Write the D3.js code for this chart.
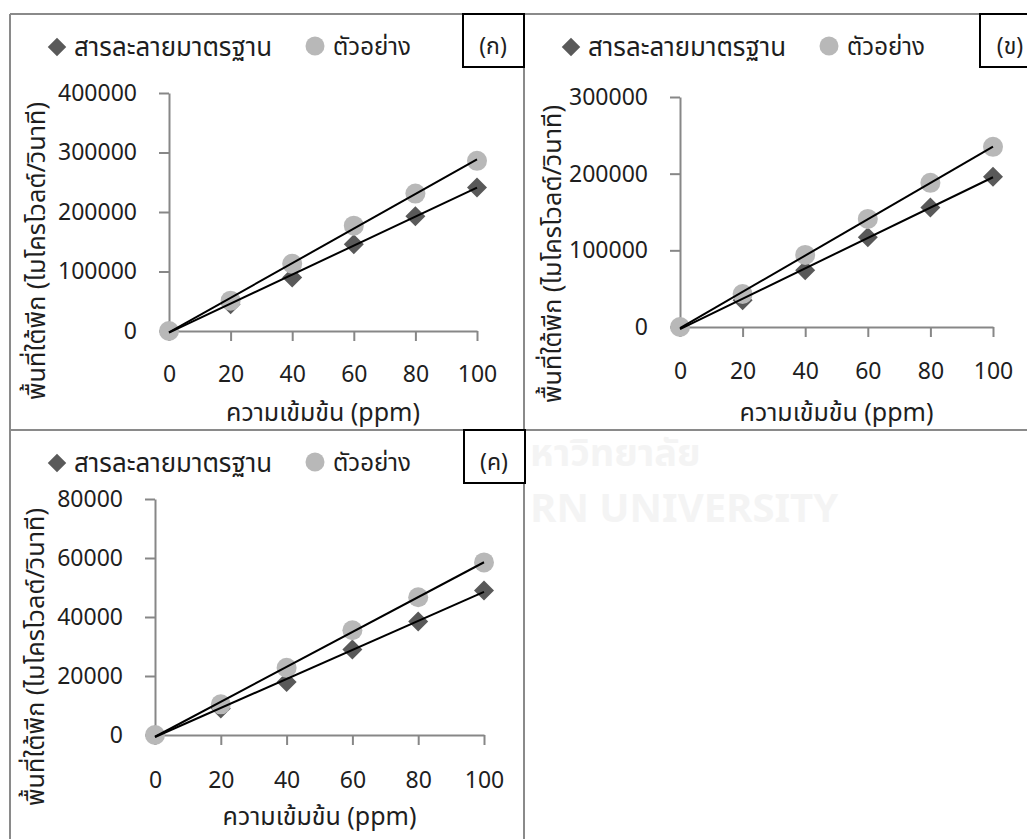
<!DOCTYPE html>
<html>
<head>
<meta charset="utf-8">
<script src="https://cdn.jsdelivr.net/npm/d3@7"></script>
<style>
  body { margin: 0; background: #fff; }
  svg text { font-family: "Leelawadee UI", Tahoma, "Noto Sans Thai", "Noto Sans", sans-serif; fill: #1e1e1e; }
</style>
</head>
<body>
<div id="chart"></div>
<script>
const concentrations = [0, 20, 40, 60, 80, 100];
const xTicks = [0, 20, 40, 60, 80, 100];

const standardA = [0, 45000, 90000, 146000, 193000, 241000];
const sampleA = [0, 51000, 113000, 177000, 231000, 286000];
const yTicksA = [0, 100000, 200000, 300000, 400000];

const standardB = [0, 35000, 74000, 117000, 156000, 196000];
const sampleB = [0, 43000, 94000, 141000, 188000, 235000];
const yTicksB = [0, 100000, 200000, 300000];

const standardC = [0, 9000, 18000, 29000, 38500, 49000];
const sampleC = [0, 10400, 22800, 35500, 46700, 58500];
const yTicksC = [0, 20000, 40000, 60000, 80000];

const legendNames = ['สารละลายมาตรฐาน', 'ตัวอย่าง'];
const panelLabels = ['(ก)', '(ข)', '(ค)'];
const xTitle = 'ความเข้มข้น (ppm)';
const yTitle = 'พื้นที่ใต้พีก (ไมโครโวลต์/วินาที)';

const width = 1027, height = 839;
const fontSize = 23;

const svg = d3.select('#chart').append('svg')
  .attr('width', width)
  .attr('height', height);

svg.append('rect').attr('width', width).attr('height', height).attr('fill', '#fff');

// scale a text's font so it spans the width seen in the picture
const fitText = (sel, target) => {
  const len = sel.node().getComputedTextLength();
  if (len > 0) sel.style('font-size', (fontSize * target / len).toFixed(2) + 'px');
  return sel;
};

// faint watermark from the scanned page
svg.append('text').attr('x', 530).attr('y', 466)
  .style('font-size', '38px').style('font-weight', 'bold').style('fill', '#f4f4f4')
  .text('หาวิทยาลัย');
svg.append('text').attr('x', 530).attr('y', 522)
  .style('font-size', '40px').style('font-weight', 'bold').style('fill', '#f4f4f4')
  .text('RN UNIVERSITY');

// panel frame lines
const frame = svg.append('g').attr('stroke', '#8a8a8a').attr('stroke-width', 2);
frame.append('line').attr('x1', 10).attr('x2', width).attr('y1', 14).attr('y2', 14);
frame.append('line').attr('x1', 10).attr('x2', width).attr('y1', 430).attr('y2', 430);
frame.append('line').attr('x1', 10).attr('x2', 10).attr('y1', 14).attr('y2', height);
frame.append('line').attr('x1', 524).attr('x2', 524).attr('y1', 14).attr('y2', height);

const fit = (xs, ys) => {
  const mx = d3.mean(xs), my = d3.mean(ys);
  const slope = d3.sum(xs, (x, i) => (x - mx) * (ys[i] - my)) / d3.sum(xs, x => (x - mx) * (x - mx));
  return {slope: slope, intercept: my - slope * mx};
};

const drawPanel = p => {
  const g = svg.append('g');
  const x = d3.scaleLinear().domain([0, 100]).range([p.x0, p.x1]);
  const y = d3.scaleLinear().domain([0, d3.max(p.yTicks)]).range([p.y0, p.y1]);

  const yAxis = g.append('g')
    .attr('transform', 'translate(' + p.x0 + ',0)')
    .call(d3.axisLeft(y).tickValues(p.yTicks).tickSize(10).tickSizeOuter(0).tickPadding(22).tickFormat(d3.format('d')));
  const xAxis = g.append('g')
    .attr('transform', 'translate(0,' + p.y0 + ')')
    .call(d3.axisBottom(x).tickValues(xTicks).tickSize(10).tickSizeOuter(0).tickPadding(p.xPad));
  [xAxis, yAxis].forEach(a => {
    a.selectAll('path, line').attr('stroke', '#878787').attr('stroke-width', 2);
    a.selectAll('text').style('font-size', fontSize + 'px').attr('fill', '#1e1e1e');
  });

  // standard (diamonds)
  g.selectAll('.std')
    .data(p.standard)
    .enter()
    .append('path')
      .attr('class', 'std')
      .attr('d', d3.symbol(d3.symbolSquare, 200))
      .attr('transform', (d, i) => 'translate(' + x(concentrations[i]) + ',' + y(d) + ') rotate(45)')
      .attr('fill', '#595959');

  // sample (circles)
  g.selectAll('.smp')
    .data(p.sample)
    .enter()
    .append('circle')
      .attr('class', 'smp')
      .attr('cx', (d, i) => x(concentrations[i]))
      .attr('cy', d => y(d))
      .attr('r', 10)
      .attr('fill', '#b8b8b8');

  // linear trendlines
  [p.standard, p.sample].forEach(series => {
    const f = fit(concentrations, series);
    g.append('line')
      .attr('x1', x(0)).attr('y1', y(f.intercept))
      .attr('x2', x(100)).attr('y2', y(f.intercept + f.slope * 100))
      .attr('stroke', '#000').attr('stroke-width', 2);
  });

  // axis titles
  fitText(g.append('text')
    .attr('x', (p.x0 + p.x1) / 2)
    .attr('y', p.xTitleY)
    .style('text-anchor', 'middle')
    .style('font-size', fontSize + 'px')
    .text(xTitle), 194);
  fitText(g.append('text')
    .attr('transform', 'translate(' + p.yTitleX + ',' + p.yTitleY + ') rotate(-90)')
    .style('text-anchor', 'middle')
    .attr('dy', '0.35em')
    .style('font-size', fontSize + 'px')
    .text(yTitle), 298);

  // legend
  const ly = p.top + 33;
  g.append('path')
    .attr('d', d3.symbol(d3.symbolSquare, 170))
    .attr('transform', 'translate(' + (p.left + 47) + ',' + ly + ') rotate(45)')
    .attr('fill', '#595959');
  fitText(g.append('text').attr('x', p.left + 64).attr('y', ly).attr('dy', '0.35em')
    .style('font-size', fontSize + 'px').text(legendNames[0]), 198);
  g.append('circle').attr('cx', p.left + 305).attr('cy', ly - 1).attr('r', 9.5).attr('fill', '#b8b8b8');
  fitText(g.append('text').attr('x', p.left + 323).attr('y', ly).attr('dy', '0.35em')
    .style('font-size', fontSize + 'px').text(legendNames[1]), 78);

  // panel label box
  g.append('rect')
    .attr('x', p.left + p.boxDx).attr('y', p.top)
    .attr('width', 61).attr('height', 53)
    .attr('fill', '#fff').attr('stroke', '#000').attr('stroke-width', 2);
  g.append('text')
    .attr('x', p.left + p.boxDx + 30).attr('y', p.top + 32).attr('dy', '0.35em')
    .style('text-anchor', 'middle')
    .style('font-size', fontSize + 'px')
    .text(p.label);
};

const panels = [
  {left: 10, top: 14, x0: 169, x1: 477, y0: 331, y1: 93, yTicks: yTicksA,
   standard: standardA, sample: sampleA, label: panelLabels[0], boxDx: 453,
   xPad: 25, xTitleY: 421, yTitleX: 36, yTitleY: 251},
  {left: 524, top: 14, x0: 680, x1: 993, y0: 327, y1: 97, yTicks: yTicksB,
   standard: standardB, sample: sampleB, label: panelLabels[1], boxDx: 456,
   xPad: 26, xTitleY: 421, yTitleX: 552, yTitleY: 254},
  {left: 10, top: 430, x0: 155, x1: 484, y0: 735, y1: 499, yTicks: yTicksC,
   standard: standardC, sample: sampleC, label: panelLabels[2], boxDx: 454,
   xPad: 27, xTitleY: 825, yTitleX: 35, yTitleY: 657}
];

panels.forEach(drawPanel);
</script>
</body>
</html>
